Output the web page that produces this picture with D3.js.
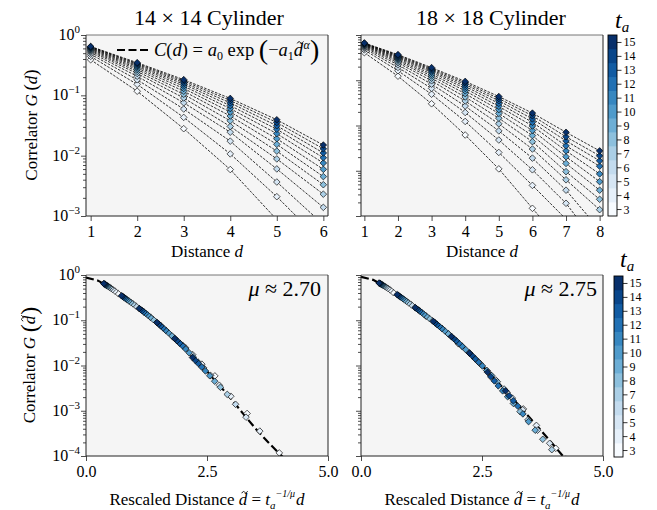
<!DOCTYPE html>
<html><head><meta charset="utf-8">
<script src="https://cdn.jsdelivr.net/npm/d3@7"></script>
<style>body{margin:0;background:#fff}</style>
</head><body>
<svg id="c" width="657" height="510" xmlns="http://www.w3.org/2000/svg"></svg>
<script>
// ---------------- DATA ----------------
const taValues = [3,4,5,6,7,8,9,10,11,12,13,14,15];
const dist14 = [1,2,3,4,5,6];
const dist18 = [1,2,3,4,5,6,7,8];
const mu14 = 2.70;
const mu18 = 2.75;
// correlator G(d) for 14x14 cylinder, rows = t_a 3..15, cols = d
const G14 = [
  [0.389, 0.117, 0.0280, 0.00589, 0.00087, 0.000117],
  [0.442, 0.152, 0.0431, 0.0107, 0.00209, 0.000355],
  [0.480, 0.181, 0.0593, 0.0174, 0.00366, 0.000721],
  [0.512, 0.207, 0.0753, 0.0245, 0.00603, 0.00139],
  [0.537, 0.230, 0.0904, 0.0305, 0.00883, 0.00230],
  [0.556, 0.249, 0.104, 0.0378, 0.0119, 0.00330],
  [0.574, 0.267, 0.117, 0.0454, 0.0154, 0.00450],
  [0.589, 0.283, 0.130, 0.0528, 0.0191, 0.00593],
  [0.603, 0.299, 0.142, 0.0603, 0.0232, 0.00756],
  [0.615, 0.312, 0.153, 0.0676, 0.0274, 0.00925],
  [0.627, 0.326, 0.163, 0.0750, 0.0313, 0.0111],
  [0.637, 0.337, 0.173, 0.0822, 0.0354, 0.0130],
  [0.646, 0.348, 0.182, 0.0889, 0.0394, 0.0150]
];
// correlator G(d) for 18x18 cylinder
const G18 = [
  [0.407, 0.123, 0.0302, 0.00617, 0.00110, 0.000148, 0.0000200, 0.0000016],
  [0.468, 0.162, 0.0492, 0.0123, 0.00254, 0.000475, 0.0000851, 0.0000158],
  [0.506, 0.192, 0.0661, 0.0194, 0.00478, 0.00105, 0.000191, 0.0000200],
  [0.537, 0.219, 0.0820, 0.0269, 0.00760, 0.00190, 0.000372, 0.0000500],
  [0.561, 0.243, 0.0973, 0.0348, 0.0109, 0.00302, 0.000631, 0.000138],
  [0.581, 0.264, 0.111, 0.0427, 0.0145, 0.00439, 0.000955, 0.000234],
  [0.597, 0.282, 0.124, 0.0506, 0.0185, 0.00598, 0.00145, 0.000372],
  [0.612, 0.300, 0.136, 0.0583, 0.0224, 0.00778, 0.00204, 0.000575],
  [0.625, 0.316, 0.149, 0.0659, 0.0265, 0.00977, 0.00275, 0.000851],
  [0.637, 0.330, 0.160, 0.0731, 0.0308, 0.0118, 0.00355, 0.00126],
  [0.647, 0.344, 0.170, 0.0804, 0.0352, 0.0140, 0.00457, 0.00166],
  [0.658, 0.357, 0.180, 0.0875, 0.0394, 0.0164, 0.00562, 0.00214],
  [0.665, 0.369, 0.190, 0.0944, 0.0437, 0.0188, 0.00708, 0.00275]
];
// collapse curve
const collapseX14 = [0, 0.25, 0.5, 0.75, 1.0, 1.25, 1.5, 1.75, 2.0, 2.25, 2.5, 2.75, 3.0, 3.25, 3.5, 3.75, 4.0, 4.1];
const collapseG14 = [0.88, 0.75, 0.525, 0.339, 0.219, 0.138, 0.0832, 0.0479, 0.0269, 0.0141, 0.00741, 0.00372, 0.00182, 0.000851, 0.000407, 0.000209, 0.000112, 0.000087];
const collapseX18 = [0, 0.25, 0.5, 0.75, 1.0, 1.25, 1.5, 1.75, 2.0, 2.25, 2.5, 2.75, 3.0, 3.25, 3.5, 3.75, 4.0, 4.25];
const collapseG18 = [0.91, 0.78, 0.556, 0.367, 0.237, 0.150, 0.0933, 0.0562, 0.0327, 0.0184, 0.0100, 0.00525, 0.00269, 0.00135, 0.000676, 0.000335, 0.000164, 0.0000794];
const yExp = [0, -1, -2, -3, -4];
const xTicksBottom = [0, 2.5, 5.0];

// ---------------- DRAWING ----------------
const svg = d3.select('#c');
const FONT = "'Liberation Serif','DejaVu Serif',serif";
const color = t => d3.interpolateBlues((t - 3) / 12);
const diamond = r => `M0,${-r}L${r},0L0,${r}L${-r},0Z`;

function rich(parent, x, y, parts, opts = {}) {
  const size = opts.size || 16;
  const tr = opts.rotate ? `rotate(${opts.rotate},${x},${y})` : null;
  const t = parent.append('text').attr('x', x).attr('y', y)
    .attr('font-family', FONT).attr('font-size', size)
    .attr('text-anchor', opts.anchor || 'start').attr('fill', '#000');
  if (tr) t.attr('transform', tr);
  parts.forEach(p => {
    const s = t.append('tspan').text(p.t);
    if (p.i) s.attr('font-style', 'italic');
    if (p.s) s.attr('font-size', p.s);
    if (p.dy) s.attr('dy', p.dy);
    if (p.dx) s.attr('dx', p.dx);
  });
  // tildes drawn as small paths above flagged characters
  let idx = 0;
  parts.forEach(p => {
    if (p.tilde) {
      const fs = p.s || size;
      const e = t.node().getExtentOfChar(idx);
      const cx = e.x + e.width * 0.5 + fs * 0.1;
      const ty = e.y + fs * 0.13;
      const hw = fs * 0.17;
      const g = parent.append('path')
        .attr('d', `M${cx - hw},${ty + 1} C${cx - hw * 0.6},${ty - 1.3} ${cx - hw * 0.25},${ty - 0.9} ${cx},${ty} S${cx + hw * 0.6},${ty + 1.3} ${cx + hw},${ty - 1}`)
        .attr('fill', 'none').attr('stroke', '#000').attr('stroke-width', 0.9);
      if (tr) g.attr('transform', tr);
    }
    idx += p.t.length;
  });
  return t;
}

function makePanel(id, L, T, W, H, xDom, yDom) {
  const x = d3.scaleLinear().domain(xDom).range([L, L + W]);
  const y = d3.scaleLog().domain(yDom).range([T + H, T]);
  svg.append('rect').attr('x', L).attr('y', T).attr('width', W).attr('height', H).attr('fill', '#f5f5f5');
  svg.append('clipPath').attr('id', id).append('rect').attr('x', L).attr('y', T).attr('width', W).attr('height', H);
  const g = svg.append('g').attr('clip-path', `url(#${id})`);
  return { x, y, L, T, W, H, g };
}

function axes(p, xTicks, xFmt, exps, showYLabels) {
  const ax = svg.append('g').attr('transform', `translate(0,${p.T + p.H})`)
    .call(d3.axisBottom(p.x).tickValues(xTicks).tickSize(5).tickPadding(5).tickFormat(xFmt));
  ax.select('.domain').remove();
  ax.selectAll('line').attr('stroke', '#000').attr('stroke-width', 0.8);
  ax.selectAll('text').attr('font-family', FONT).attr('font-size', 16).attr('fill', '#000');
  const majors = exps.map(e => Math.pow(10, e));
  const minors = [];
  exps.slice(1).forEach(e => { for (let m = 2; m <= 9; m++) minors.push(m * Math.pow(10, e)); });
  const ay = svg.append('g').attr('transform', `translate(${p.L},0)`)
    .call(d3.axisLeft(p.y).tickValues(majors).tickSize(5).tickFormat(''));
  ay.select('.domain').remove();
  const am = svg.append('g').attr('transform', `translate(${p.L},0)`)
    .call(d3.axisLeft(p.y).tickValues(minors).tickSize(3).tickFormat(''));
  am.select('.domain').remove();
  svg.selectAll('.tick line').attr('stroke', '#000').attr('stroke-width', 0.7);
  if (showYLabels) {
    exps.forEach(e => {
      rich(svg, p.L - 6, p.y(Math.pow(10, e)) + 5,
        [{ t: '10' }, { t: e === 0 ? '0' : '\u2212' + (-e), s: 11, dy: -7 }],
        { anchor: 'end', size: 16 });
    });
  }
  const sp = svg.append('g');
  sp.append('line').attr('x1', p.L).attr('x2', p.L + p.W).attr('y1', p.T).attr('y2', p.T).attr('stroke', '#777').attr('stroke-width', 1);
  sp.append('line').attr('x1', p.L).attr('x2', p.L + p.W).attr('y1', p.T + p.H).attr('y2', p.T + p.H).attr('stroke', '#222').attr('stroke-width', 1);
  sp.append('line').attr('x1', p.L).attr('x2', p.L).attr('y1', p.T).attr('y2', p.T + p.H).attr('stroke', '#222').attr('stroke-width', 1);
  sp.append('line').attr('x1', p.L + p.W).attr('x2', p.L + p.W).attr('y1', p.T).attr('y2', p.T + p.H).attr('stroke', '#222').attr('stroke-width', 1);
}

function topPanel(p, dist, G) {
  const line = d3.line().x(d => p.x(d[0])).y(d => p.y(d[1]));
  G.forEach((row) => {
    p.g.append('path').attr('d', line(row.map((v, j) => [dist[j], v])))
      .attr('fill', 'none').attr('stroke', '#000').attr('stroke-width', 0.8).attr('stroke-dasharray', '2.6,1.3');
  });
  G.forEach((row, i) => {
    row.forEach((v, j) => {
      p.g.append('path').attr('d', diamond(3.3))
        .attr('transform', `translate(${p.x(dist[j])},${p.y(v)})`)
        .attr('fill', color(taValues[i])).attr('stroke', '#000').attr('stroke-width', 0.65);
    });
  });
}

function bottomPanel(p, dist, G, mu, cx, cg) {
  const line = d3.line().x(d => p.x(d)).y((d, i) => p.y(cg[i]));
  p.g.append('path').attr('d', line(cx)).attr('fill', 'none').attr('stroke', '#000')
    .attr('stroke-width', 2.2).attr('stroke-dasharray', '8,3.5');
  G.forEach((row, i) => {
    const t = taValues[i];
    row.forEach((v, j) => {
      const dt = dist[j] * Math.pow(t, -1 / mu);
      p.g.append('path').attr('d', diamond(3.3))
        .attr('transform', `translate(${p.x(dt)},${p.y(v)})`)
        .attr('fill', color(t)).attr('stroke', '#000').attr('stroke-width', 0.65);
    });
  });
}

function colorbar(x0, y0, w, h, labelX, labelY) {
  const cy = d3.scaleLinear().domain([2.5, 15.5]).range([y0 + h, y0]);
  taValues.forEach(t => {
    svg.append('rect').attr('x', x0).attr('y', cy(t + 0.5)).attr('width', w).attr('height', cy(t - 0.5) - cy(t + 0.5) + 0.3)
      .attr('fill', color(t));
  });
  svg.append('rect').attr('x', x0).attr('y', y0).attr('width', w).attr('height', h)
    .attr('fill', 'none').attr('stroke', '#000').attr('stroke-width', 0.9);
  const a = svg.append('g').attr('transform', `translate(${x0 + w},0)`)
    .call(d3.axisRight(cy).tickValues(taValues).tickSize(4.5).tickPadding(2).tickFormat(d3.format('d')));
  a.select('.domain').remove();
  a.selectAll('line').attr('stroke', '#000').attr('stroke-width', 0.8);
  a.selectAll('text').attr('font-family', FONT).attr('font-size', 12).attr('fill', '#000').attr('dy', '0.33em');
  rich(svg, labelX, labelY, [{ t: 't', i: 1 }, { t: 'a', i: 1, s: 15, dy: 4 }], { size: 24 });
}

// panels
const TL = makePanel('cTL', 86, 35, 242, 181, [0.9, 6.1], [1e-3, 1]);
const TR = makePanel('cTR', 361, 35, 242, 181, [0.9, 8.1], [1e-4, 1]);
const BL = makePanel('cBL', 86, 275, 242, 181, [0, 5], [1e-4, 1]);
const BR = makePanel('cBR', 361, 275, 242, 181, [0, 5], [1e-4, 1]);

topPanel(TL, dist14, G14);
topPanel(TR, dist18, G18);
bottomPanel(BL, dist14, G14, mu14, collapseX14, collapseG14);
bottomPanel(BR, dist18, G18, mu18, collapseX18, collapseG18);

axes(TL, dist14, d3.format('d'), [0, -1, -2, -3], true);
axes(TR, dist18, d3.format('d'), [0, -1, -2, -3, -4], false);
axes(BL, xTicksBottom, d3.format('.1f'), yExp, true);
axes(BR, xTicksBottom, d3.format('.1f'), yExp, false);

colorbar(608, 35, 9, 181, 615, 28);
colorbar(614, 276, 9, 181, 620, 267);

// titles
rich(svg, 209, 25, [{ t: '14 \u00d7 14 Cylinder' }], { anchor: 'middle', size: 22 });
rich(svg, 491, 25, [{ t: '18 \u00d7 18 Cylinder' }], { anchor: 'middle', size: 22 });

// axis labels
rich(svg, 207, 257, [{ t: 'Distance ' }, { t: 'd', i: 1 }], { anchor: 'middle', size: 17 });
rich(svg, 482, 257, [{ t: 'Distance ' }, { t: 'd', i: 1 }], { anchor: 'middle', size: 17 });
rich(svg, 37, 125, [{ t: 'Correlator ' }, { t: 'G', i: 1 }, { t: '\u2009(', s: 19 }, { t: 'd', i: 1 }, { t: ')', s: 19 }], { anchor: 'middle', size: 17, rotate: -90 });
rich(svg, 35, 365, [{ t: 'Correlator ' }, { t: 'G', i: 1 }, { t: '\u2009(', s: 24, dy: 1.5 },
  { t: 'd', i: 1, dy: -1.5, tilde: 1 }, { t: ')', s: 24, dy: 1.5, dx: 1 }], { anchor: 'middle', size: 17, rotate: -90 });

const rescaled = [{ t: 'Rescaled Distance ' }, { t: 'd', i: 1, tilde: 1 }, { t: ' = ' }, { t: 't', i: 1 },
  { t: 'a', i: 1, s: 11, dy: 4 }, { t: '\u22121/\u03bc', i: 1, s: 10, dy: -12 }, { t: 'd', i: 1, dy: 8, dx: 1 }];
rich(svg, 207, 505, rescaled, { anchor: 'middle', size: 17 });
rich(svg, 482, 505, rescaled, { anchor: 'middle', size: 17 });

// mu annotations
rich(svg, 321, 296, [{ t: '\u03bc', i: 1 }, { t: ' \u2248 2.70' }], { anchor: 'end', size: 22 });
rich(svg, 597, 296, [{ t: '\u03bc', i: 1 }, { t: ' \u2248 2.75' }], { anchor: 'end', size: 22 });

// legend
svg.append('line').attr('x1', 117).attr('x2', 150).attr('y1', 50).attr('y2', 50)
  .attr('stroke', '#000').attr('stroke-width', 2.2).attr('stroke-dasharray', '8,3.5');
rich(svg, 154, 56, [
  { t: 'C', i: 1 }, { t: '(' }, { t: 'd', i: 1 }, { t: ') = ' }, { t: 'a', i: 1 }, { t: '0', s: 12, dy: 4 },
  { t: ' exp ', dy: -4 }, { t: '(', s: 28, dy: 3 }, { t: '\u2212', dy: -3 }, { t: 'a', i: 1 }, { t: '1', s: 12, dy: 4 },
  { t: 'd', i: 1, dy: -4, tilde: 1 }, { t: '\u03b1', i: 1, s: 12, dy: -7, dx: 0.5 }, { t: ')', s: 28, dy: 10 }
], { size: 18.5 });
</script>
</body></html>
